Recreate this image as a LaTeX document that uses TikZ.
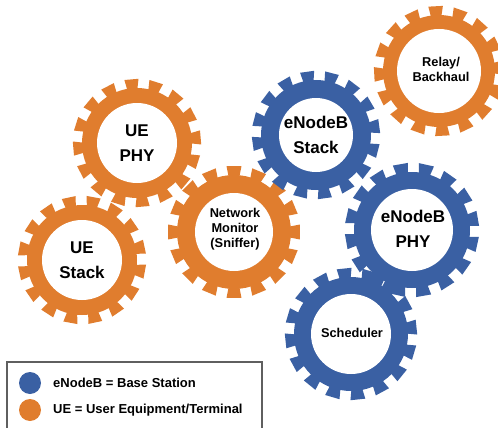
\documentclass[tikz,border=0pt]{standalone}
\usepackage{fontspec}
\setmainfont{Liberation Sans}
\definecolor{gorange}{RGB}{224,125,46}
\definecolor{gblue}{RGB}{58,96,163}
\definecolor{framegray}{RGB}{95,95,95}
% gear: x, y, tip radius, hole radius, colour, rotation (16 teeth, parallel-sided notches)
\newcommand\mygear[6]{%
  \begin{scope}[shift={(#1,#2)}]
    \fill[#5] (0,0) circle ({#3-9});
    \pgfmathsetmacro\ra{#3-11}
    \pgfmathsetmacro\rb{#3}
    \foreach \k in {0,...,15}{
      \fill[#5, rotate={#6+\k*22.5}]
        ({0.98079*\ra+1.0730},{-(0.19509*\ra-5.3943)}) --
        ({0.98079*\rb+1.0730},{-(0.19509*\rb-5.3943)}) --
        ({0.98079*\rb+1.0730},{0.19509*\rb-5.3943}) --
        ({0.98079*\ra+1.0730},{0.19509*\ra-5.3943}) -- cycle;}
    \fill[white] (0,0) circle (#4);
  \end{scope}}
\tikzset{
  biglab/.style={align=center, font=\bfseries\fontsize{17}{24.5}\selectfont, inner sep=0pt},
  smalllab/.style={align=center, font=\bfseries\fontsize{12.8}{15}\selectfont, inner sep=0pt},
  legtext/.style={anchor=west, font=\bfseries\fontsize{13}{15}\selectfont, inner sep=0pt},
  legframe/.style={draw=framegray, line width=1.4pt}
}
\begin{document}
\begin{tikzpicture}[x=1pt,y=-1pt]
\useasboundingbox (0,0) rectangle (498,428);
\clip (0,0) rectangle (498,428);
% gears
\mygear{137}{143}{64}{40}{gorange}{5}
\mygear{82}{260}{64}{40}{gorange}{12}
\mygear{234}{232}{66}{39}{gorange}{0}
\mygear{316}{135}{64}{37}{gblue}{8}
\mygear{439}{71}{65}{42}{gorange}{3}
\mygear{412}{230}{67}{41}{gblue}{10}
\mygear{351}{334}{66}{40}{gblue}{6}
% labels
\node[biglab] (uephy) at (137,143) {UE\\PHY};
\node[biglab] (uestack) at (82,260) {UE\\Stack};
\node[smalllab] (netmon) at (235,229) {Network\\Monitor\\(Sniffer)};
\node[biglab] (enbstack) at (316,135) {eNodeB\\Stack};
\node[smalllab] (relay) at (441,69) {Relay/\\Backhaul};
\node[biglab] (enbphy) at (413,229) {eNodeB\\PHY};
\node[smalllab] (sched) at (352,333) {Scheduler};
% legend
\draw[legframe] (7,362) rectangle (262,445);
\fill[gblue] (30,383) circle (11) node (legb) {};
\fill[gorange] (30,410) circle (11) node (lego) {};
\node[legtext] (legbt) at (53,383) {eNodeB = Base Station};
\node[legtext] (legot) at (53,410) {UE = User Equipment/Terminal};
\end{tikzpicture}
\end{document}
